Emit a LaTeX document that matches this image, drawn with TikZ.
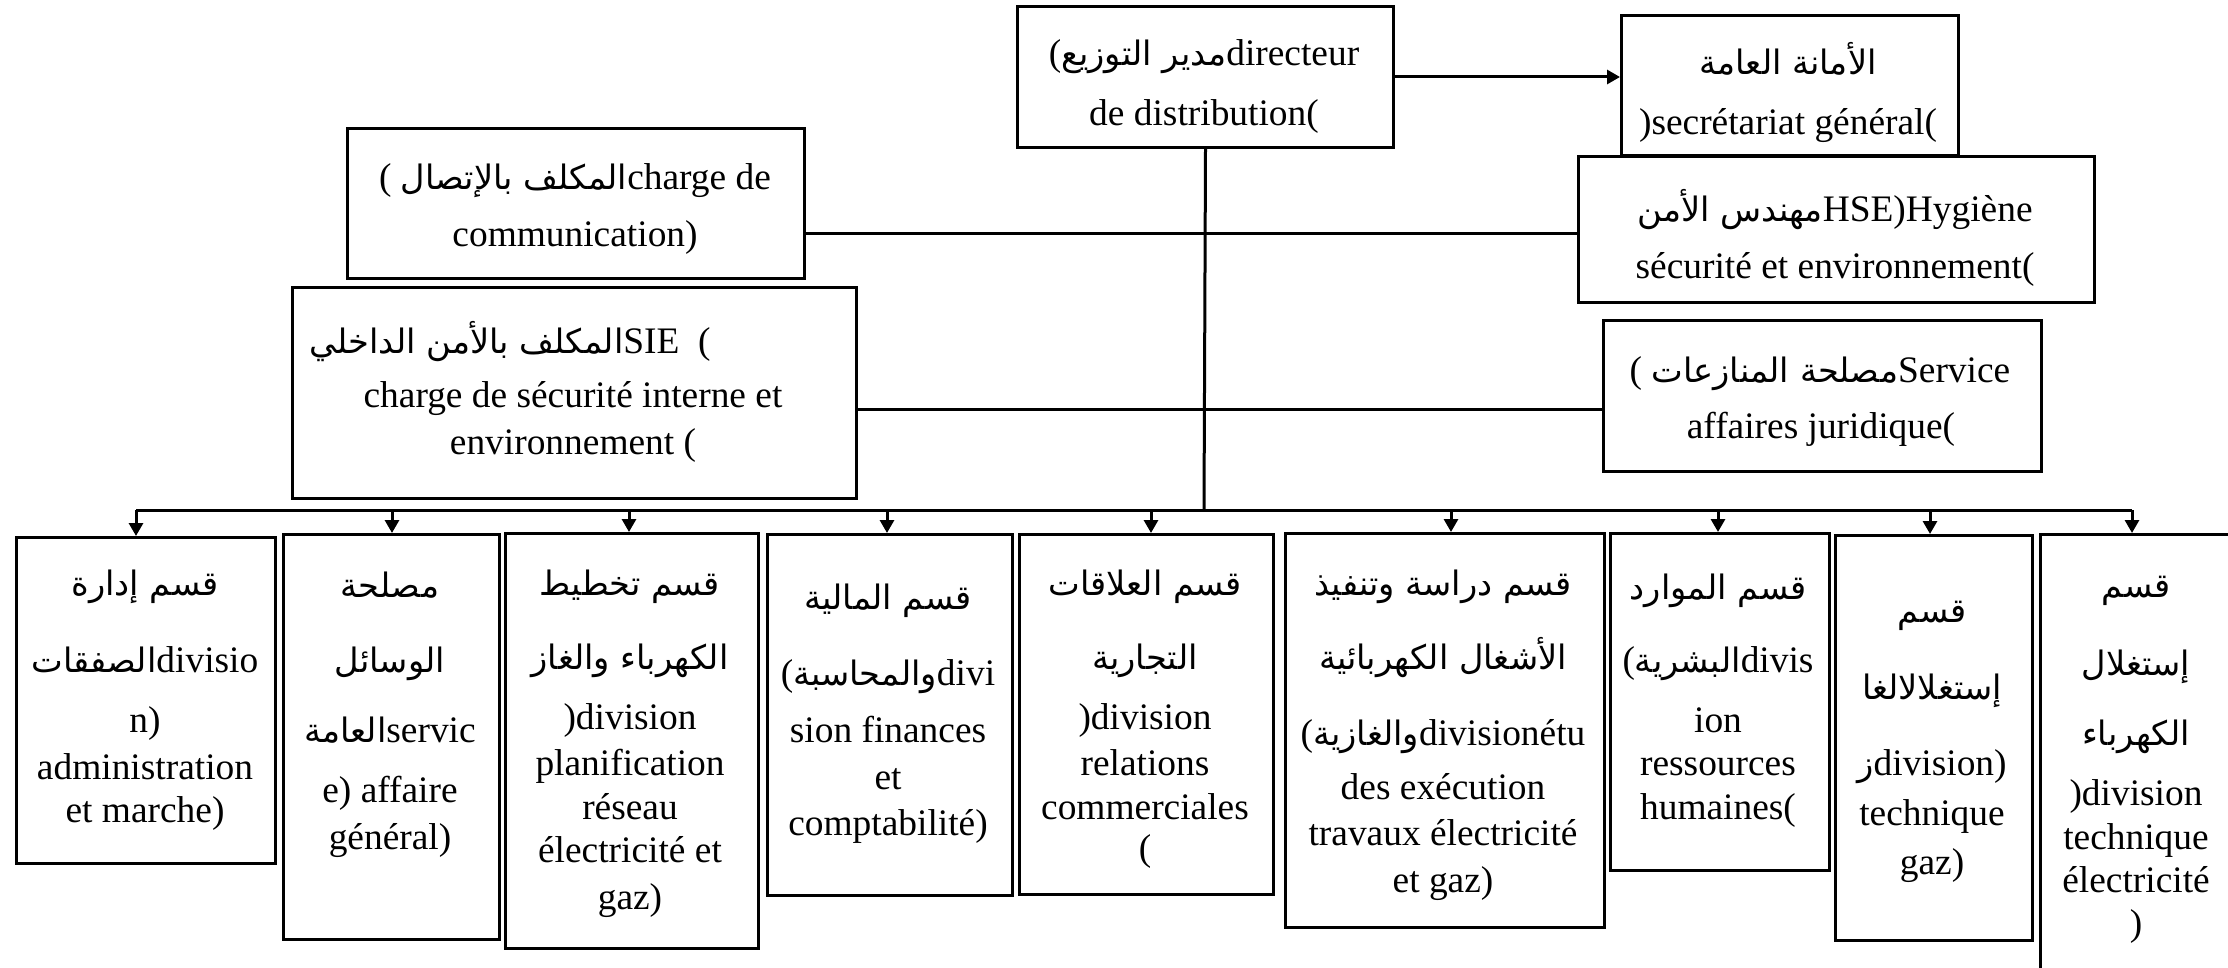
\documentclass[tikz,border=0pt]{standalone}
\usepackage{fontspec}
\setmainfont{Liberation Serif}
\newfontfamily\arabicfont[Script=Arabic,Scale=0.9]{DejaVu Sans}
\TeXXeTstate=1
\newcommand{\artx}[1]{{\arabicfont\beginR #1\endR}}
\usetikzlibrary{arrows.meta}
\newcommand{\mkbox}[5]{\node[box, minimum width=#4*0.5pt, minimum height=#5*0.5pt] (#1) at (#2,#3) {};}
\begin{document}
\begin{tikzpicture}[x=0.5pt,y=-0.5pt,
  box/.style={draw, line width=1.5pt, fill=white, anchor=north west, inner sep=0pt},
  txt/.style={inner sep=0pt, anchor=base, font=\fontsize{18.7}{22}\selectfont},
  conn/.style={line width=1.5pt},
  arr/.style={line width=1.5pt, -{Triangle[length=6.5pt,width=7pt]}}]
\path[use as bounding box, clip] (0,0) rectangle (2228,968);
\fill[white] (0,0) rectangle (2228,968);

% top boxes
\mkbox{dir}{1016}{5}{376}{141}
\mkbox{sec}{1620}{14}{337}{140}
\mkbox{hse}{1577}{155}{516}{146}
\mkbox{svc}{1602}{319}{438}{151}
\mkbox{com}{346}{127}{457}{150}
\mkbox{sie}{291}{286}{564}{211}

\node[txt] (dirl1) at (1204,66) {(\artx{مدير التوزيع}directeur};
\node[txt] (dirl2) at (1204,126) {de distribution(};
\node[txt] (secl1) at (1788,75) {\artx{الأمانة العامة}};
\node[txt] (secl2) at (1788,135) {)secrétariat général(};
\node[txt] (coml1) at (575,190) {( \artx{المكلف بالإتصال}charge de};
\node[txt] (coml2) at (575,247) {communication)};
\node[txt] (siel1) at (510,353) {\artx{المكلف بالأمن الداخلي}SIE\ \ (};
\node[txt] (siel2) at (573,408) {charge de sécurité interne et};
\node[txt] (siel3) at (573,454) {environnement (};
\node[txt] (hsel1) at (1835,222) {\artx{مهندس الأمن}HSE)Hygiène};
\node[txt] (hsel2) at (1835,279) {sécurité et environnement(};
\node[txt] (svcl1) at (1820,382) {( \artx{مصلحة المنازعات}Service};
\node[txt] (svcl2) at (1821,438) {affaires juridique(};

% bottom boxes
\mkbox{b1}{15}{536}{259}{326}
\mkbox{b2}{282}{533}{216}{405}
\mkbox{b3}{504}{532}{253}{415}
\mkbox{b4}{766}{533}{245}{361}
\mkbox{b5}{1018}{533}{254}{360}
\mkbox{b6}{1284}{532}{319}{394}
\mkbox{b7}{1609}{532}{219}{337}
\mkbox{b8}{1834}{534}{197}{405}
\mkbox{b9}{2039}{533}{200}{460}

\foreach \yy/\tx [count=\i] in {595/{\artx{قسم إدارة}}, 672/{\artx{الصفقات}divisio}, 732/{n)}, 779/{administration}, 822/{et marche)}}
  \node[txt] (b1l\i) at (145,\yy) {\tx};
\foreach \yy/\tx [count=\i] in {597/{\artx{مصلحة}}, 672/{\artx{الوسائل}}, 742/{\artx{العامة}servic}, 802/{e) affaire}, 849/{général)}}
  \node[txt] (b2l\i) at (390,\yy) {\tx};
\foreach \yy/\tx [count=\i] in {595/{\artx{قسم تخطيط}}, 669/{\artx{الكهرباء والغاز}}, 729/{)division}, 775/{planification}, 819/{réseau}, 862/{électricité et}, 909/{gaz)}}
  \node[txt] (b3l\i) at (630,\yy) {\tx};
\foreach \yy/\tx [count=\i] in {609/{\artx{قسم المالية}}, 685/{(\artx{والمحاسبة}divi}, 742/{sion finances}, 789/{et}, 835/{comptabilité)}}
  \node[txt] (b4l\i) at (888,\yy) {\tx};
\foreach \yy/\tx [count=\i] in {595/{\artx{قسم العلاقات}}, 669/{\artx{التجارية}}, 729/{)division}, 775/{relations}, 819/{commerciales}, 860/{(}}
  \node[txt] (b5l\i) at (1145,\yy) {\tx};
\foreach \yy/\tx [count=\i] in {595/{\artx{قسم دراسة وتنفيذ}}, 669/{\artx{الأشغال الكهربائية}}, 745/{(\artx{والغازية}divisionétu}, 799/{des exécution}, 845/{travaux électricité}, 892/{et gaz)}}
  \node[txt] (b6l\i) at (1443,\yy) {\tx};
\foreach \yy/\tx [count=\i] in {599/{\artx{قسم الموارد}}, 672/{(\artx{البشرية}divis}, 732/{ion}, 775/{ressources}, 819/{humaines(}}
  \node[txt] (b7l\i) at (1718,\yy) {\tx};
\foreach \yy/\tx [count=\i] in {622/{\artx{قسم}}, 699/{\artx{إستغلالالغا}}, 775/{\artx{ز}division)}, 825/{technique}, 874/{gaz)}}
  \node[txt] (b8l\i) at (1932,\yy) {\tx};
\foreach \yy/\tx [count=\i] in {597/{\artx{قسم}}, 675/{\artx{إستغلال}}, 745/{\artx{الكهرباء}}, 805/{)division}, 849/{technique}, 892/{électricité}, 935/{)}}
  \node[txt] (b9l\i) at (2136,\yy) {\tx};

% connectors
\draw[arr] (dir.east) -- (dir.east -| sec.west);
\coordinate (trunkend) at (1204,510);
\draw[conn] (dir.south) -- (trunkend);
\coordinate (comr) at ([yshift=-15pt]com.east);
\draw[conn] (comr) -- (comr -| hse.west);
\coordinate (sier) at ([yshift=-8.25pt]sie.east);
\draw[conn] (sier) -- (sier -| svc.west);
\coordinate (busl) at (136,510);
\coordinate (busr) at (2132,510);
\draw[conn] (busl) -- (busr);
\foreach \xx/\bb in {136/b1, 392/b2, 629/b3, 887/b4, 1151/b5, 1451/b6, 1718/b7, 1930/b8, 2132/b9}
  \draw[arr] (\xx,510) coordinate (j\bb) -- (j\bb |- \bb.north);
\end{tikzpicture}
\end{document}
